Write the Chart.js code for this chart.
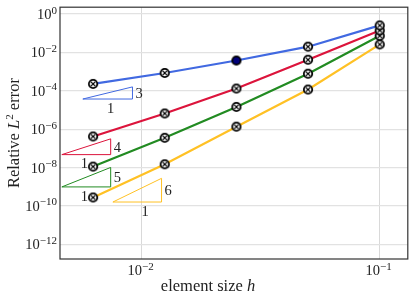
<!DOCTYPE html>
<html><head><meta charset="utf-8">
<script src="https://cdn.jsdelivr.net/npm/chart.js@4/dist/chart.umd.min.js"></script>
<style>html,body{margin:0;padding:0;background:#fff}#wrap{width:415px;height:297px;position:relative}</style>
</head><body><div id="wrap"><canvas id="c"></canvas></div>
<script>
// ---- data ----
const elementSize = [0.1, 0.05, 0.025, 0.0125, 0.00625];
const errP3 = [0.257, 0.0200, 3.8e-3, 8.5e-4, 2.29e-4];
const errP4 = [0.141, 4.17e-3, 1.32e-4, 6.6e-6, 4.17e-7];
const errP5 = [0.0741, 7.76e-4, 1.45e-5, 3.55e-7, 1.12e-8];
const errP6 = [0.0263, 1.17e-4, 1.35e-6, 1.48e-8, 2.75e-10];
const slopeOrders = [3, 4, 5, 6];
// slope triangles: [left h, right h], [bottom err, top err]
const triH3 = [0.00566, 0.00915], triE3 = [3.73e-5, 1.60e-4];
const triH4 = [0.00462, 0.00741], triE4 = [4.71e-8, 3.13e-7];
const triH5 = [0.00462, 0.00741], triE5 = [9.75e-10, 1.01e-8];
const triH6 = [0.00757, 0.01212], triE6 = [1.59e-10, 2.73e-9];
const xTickValues = [1e-2, 1e-1];
const yTickValues = [1e0, 1e-2, 1e-4, 1e-6, 1e-8, 1e-10, 1e-12];
const xTitle = ['element size ', 'h'];
const yTitle = ['Relative ', 'L', '2', ' error'];

const colors = ['#4169E1', '#DC143C', '#228B22', '#FFC125'];
const SERIF = "'Liberation Serif', 'DejaVu Serif', serif";
// pixel nudges for the "1" labels under each triangle (style only)
const oneLabelNudge = [3, -2, -2, 8];

function makeMarker(filled) {
  const c = document.createElement('canvas');
  c.width = 12; c.height = 12;
  const g = c.getContext('2d');
  g.beginPath(); g.arc(6, 6, 4.2, 0, 2 * Math.PI);
  g.fillStyle = filled ? '#00007a' : '#ffffff'; g.fill();
  g.lineWidth = 1.8; g.strokeStyle = '#000'; g.stroke();
  if (!filled) {
    g.beginPath();
    const r = 2.4;
    g.moveTo(6 - r, 6 - r); g.lineTo(6 + r, 6 + r);
    g.moveTo(6 + r, 6 - r); g.lineTo(6 - r, 6 + r);
    g.lineWidth = 1.3; g.stroke();
  }
  return c;
}
const mOpen = makeMarker(false), mFilled = makeMarker(true);

function series(vals, color, styles) {
  return {
    type: 'line',
    data: elementSize.map((h, i) => ({ x: h, y: vals[i] })),
    borderColor: color, borderWidth: 2.2, backgroundColor: color,
    pointStyle: styles || mOpen, pointRadius: 5, pointHoverRadius: 5,
    tension: 0, order: 1
  };
}
function tri(hs, es, color) {
  return {
    type: 'line',
    data: [{ x: hs[0], y: es[0] }, { x: hs[1], y: es[0] }, { x: hs[1], y: es[1] }, { x: hs[0], y: es[0] }],
    borderColor: color, borderWidth: 1, pointRadius: 0, tension: 0, order: 5, fill: false
  };
}
const tris = [[triH3, triE3], [triH4, triE4], [triH5, triE5], [triH6, triE6]];

const datasets = [
  ...tris.map((t, i) => tri(t[0], t[1], colors[i])),
  series(errP3, colors[0], [mOpen, mOpen, mFilled, mOpen, mOpen]),
  series(errP4, colors[1]),
  series(errP5, colors[2]),
  series(errP6, colors[3])
];

function drawRich(ctx, parts, x, y, align) {
  let w = 0;
  parts.forEach(p => { ctx.font = p.font; p.w = ctx.measureText(p.t).width; w += p.w; });
  let cx = align === 'center' ? x - w / 2 : (align === 'right' ? x - w : x);
  ctx.textAlign = 'left'; ctx.textBaseline = 'alphabetic';
  parts.forEach(p => { ctx.font = p.font; ctx.fillText(p.t, cx, y + (p.dy || 0)); cx += p.w; });
}
function powParts(exp) {
  const e = exp === 0 ? '0' : '\u2212' + Math.abs(exp);
  return [{ t: '10', font: '14.5px ' + SERIF }, { t: e, font: '11px ' + SERIF, dy: -5.5 }];
}

const annot = {
  id: 'annot',
  afterDraw(chart) {
    const ctx = chart.ctx, a = chart.chartArea, xs = chart.scales.x, ys = chart.scales.y;
    ctx.save();
    // frame
    ctx.strokeStyle = '#333'; ctx.lineWidth = 1.2;
    ctx.strokeRect(a.left, a.top, a.right - a.left, a.bottom - a.top);
    ctx.fillStyle = '#222';
    // y tick labels
    ys.ticks.forEach(t => {
      const py = ys.getPixelForValue(t.value);
      drawRich(ctx, powParts(Math.round(Math.log10(t.value))), a.left - 3, py + 5, 'right');
    });
    // x tick labels
    xs.ticks.forEach(t => {
      const px = xs.getPixelForValue(t.value);
      drawRich(ctx, powParts(Math.round(Math.log10(t.value))), px - 1, a.bottom + 16, 'center');
    });
    // x title
    drawRich(ctx, [{ t: xTitle[0], font: '16.5px ' + SERIF }, { t: xTitle[1], font: 'italic 16.5px ' + SERIF }], 208, 291, 'center');
    // y title
    ctx.save();
    ctx.translate(19, (a.top + a.bottom) / 2);
    ctx.rotate(-Math.PI / 2);
    drawRich(ctx, [
      { t: yTitle[0], font: '16.5px ' + SERIF },
      { t: yTitle[1], font: 'italic 16.5px ' + SERIF },
      { t: yTitle[2], font: '11px ' + SERIF, dy: -6.5 },
      { t: yTitle[3], font: '16.5px ' + SERIF }
    ], 0, 0, 'center');
    ctx.restore();
    // triangle labels
    ctx.font = '14.5px ' + SERIF;
    tris.forEach((t, i) => {
      const x0 = xs.getPixelForValue(t[0][0]), x1 = xs.getPixelForValue(t[0][1]);
      const yb = ys.getPixelForValue(t[1][0]), yt = ys.getPixelForValue(t[1][1]);
      ctx.textAlign = 'center'; ctx.textBaseline = 'middle';
      ctx.fillText('1', (x0 + x1) / 2 + oneLabelNudge[i], yb + 10);
      ctx.textAlign = 'left';
      ctx.fillText(String(slopeOrders[i]), x1 + 3, (yb + yt) / 2 + 1);
    });
    ctx.restore();
  }
};

new Chart(document.getElementById('c'), {
  type: 'line',
  data: { datasets },
  options: {
    responsive: true, maintainAspectRatio: false, animation: false,
    layout: { padding: { left: 60, right: 4, top: 4, bottom: 38 } },
    plugins: { legend: { display: false }, tooltip: { enabled: false } },
    scales: {
      x: {
        type: 'logarithmic', min: 0.004539, max: 0.1312,
        afterBuildTicks: s => { s.ticks = xTickValues.map(v => ({ value: v })); },
        ticks: { display: false },
        grid: { color: '#cfcfcf', lineWidth: 0.8, drawTicks: false },
        border: { display: false }
      },
      y: {
        type: 'logarithmic', min: 1.7e-13, max: 2.29,
        afterBuildTicks: s => { s.ticks = yTickValues.map(v => ({ value: v })); },
        ticks: { display: false },
        grid: { color: '#e2e2e2', lineWidth: 1.3, drawTicks: false },
        border: { display: false }
      }
    }
  },
  plugins: [annot]
});
</script>
</body></html>
